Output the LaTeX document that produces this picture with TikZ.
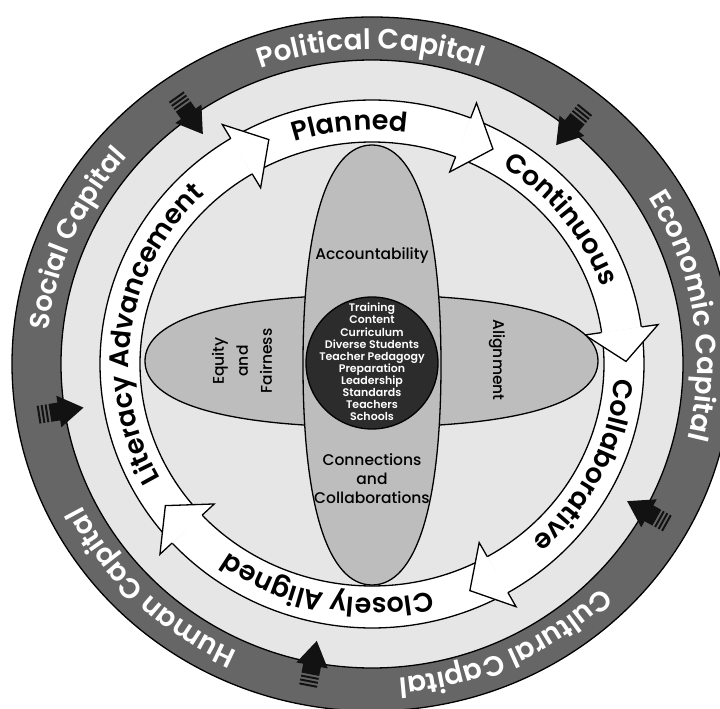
\documentclass[tikz,border=0pt]{standalone}
\usepackage{fontspec}
\setmainfont{Poppins}
\newfontfamily\popmed{Poppins Medium}
\newfontfamily\popsemi{Poppins SemiBold}
\usetikzlibrary{decorations.text}

\definecolor{capring}{HTML}{666666}
\definecolor{haze}{HTML}{E6E6E6}
\definecolor{petal}{HTML}{BDBDBD}
\definecolor{hub}{HTML}{2C2C2C}
\definecolor{pointer}{HTML}{121212}

% text set along a clockwise elliptic arc
% #1 centre angle, #2 half span, #3 x radius, #4 y radius, #5 text colour, #6 text
\newcommand\arclabel[6]{%
  \path[decorate, decoration={text along path, text align=center, text color=#5, text={#6}}]
    ({#1+#2}:#3 and #4) arc[start angle={#1+#2}, end angle={#1-#2}, x radius=#3, y radius=#4];
}

% body of one cycle segment, from angle #1 clockwise to angle #2
% (outer edge 272 x 264, inner edge 232 x 222)
\newcommand\cyclebody[2]{%
  \fill[white] ({#1}:272 and 264) arc[start angle={#1}, end angle={#2}, x radius=272, y radius=264]
    -- ({#2}:232 and 222) arc[start angle={#2}, end angle={#1}, x radius=232, y radius=222] -- cycle;
  \draw[edge] ({#1}:272 and 264) arc[start angle={#1}, end angle={#2}, x radius=272, y radius=264];
  \draw[edge] ({#1}:232 and 222) arc[start angle={#1}, end angle={#2}, x radius=232, y radius=222];
}

% arrow head of a cycle segment, base at angle #1
\newcommand\cyclehead[1]{%
  \begin{scope}[shift={({#1}:252 and 243)}, rotate={#1-90}]
    \fill[white] (0,37) -- (32,0) -- (0,-37) -- cycle;
    \draw[edge, line join=miter] (0,20.5) -- (0,37) -- (32,0) -- (0,-37) -- (0,-20.5);
  \end{scope}
}

% small inward pointer with a striped tail, tip at angle #1
\newcommand\inpointer[1]{%
  \begin{scope}[shift={({#1}:292 and 282)}, rotate={#1+180}]
    \fill[pointer] (0,0) -- (-25,16) -- (-25,9) -- (-34,9) -- (-34,-9) -- (-25,-9) -- (-25,-16) -- cycle;
    \fill[pointer] (-38,-9) rectangle (-36,9);
    \fill[pointer] (-42,-9) rectangle (-40,9);
    \fill[pointer] (-46,-9) rectangle (-44,9);
  \end{scope}
}

% full-bodied oval petal: centre (#1,#2), half axes #3 and #4
\newcommand\petalshape[4]{%
  \begin{scope}[shift={(#1,#2)}]
    \filldraw[fill=petal, edge] ({#3},0) .. controls ({#3},{0.64*#4}) and ({0.64*#3},{#4}) .. (0,{#4})
      .. controls ({-0.64*#3},{#4}) and ({-#3},{0.64*#4}) .. ({-#3},0)
      .. controls ({-#3},{-0.64*#4}) and ({-0.64*#3},{-#4}) .. (0,{-#4})
      .. controls ({0.64*#3},{-#4}) and ({#3},{-0.64*#4}) .. cycle;
  \end{scope}
}

\begin{document}
\begin{tikzpicture}[x=1pt, y=1pt,
    edge/.style={draw=black, line width=1.3pt},
    petaltext/.style={font=\popmed\fontsize{15.5}{19}\selectfont, align=center, text=black},
  ]
\useasboundingbox (-372,-345) rectangle (348,364);
\clip (-372,-345) rectangle (348,364);
\fill[white] (-372,-345) rectangle (348,364);

% outer capital ring
\fill[capring] (0,0) ellipse [x radius=360, y radius=347];
\fill[haze] (0,0) ellipse [x radius=311, y radius=304];
\draw[edge] (0,0) ellipse [x radius=360, y radius=347];
\draw[edge] (0,0) ellipse [x radius=311, y radius=304];

% capital labels
\arclabel{90.3}{40}{325}{315}{white}{|\popsemi\fontsize{28}{30}\selectfont|Political Capital}
\arclabel{9}{45}{325}{315}{white}{|\popsemi\fontsize{28}{30}\selectfont|Economic Capital}
\arclabel{-65}{40}{325}{315}{white}{|\popsemi\fontsize{28}{30}\selectfont|Cultural Capital}
\arclabel{226}{38}{325}{315}{white}{|\popsemi\fontsize{28}{30}\selectfont|Human Capital}
\arclabel{156.5}{35}{325}{315}{white}{|\popsemi\fontsize{27.5}{30}\selectfont|Social Capital}

% inward pointers
\inpointer{125.4}
\inpointer{50.9}
\inpointer{-29.1}
\inpointer{259.1}
\inpointer{188.9}

% cycle of literacy advancement
\cyclebody{221.3}{121.2}
\cyclebody{119.7}{68.8}
\cyclebody{67.3}{8.1}
\cyclebody{6.6}{-60.1}
\cyclebody{-61.6}{-137.2}
\cyclehead{121.2}
\cyclehead{68.8}
\cyclehead{8.1}
\cyclehead{-60.1}
\cyclehead{222.8}

\arclabel{171.5}{50}{243}{234}{black}{|\popsemi\fontsize{27}{30}\selectfont|Literacy Advancement}
\arclabel{95.2}{25}{243}{234}{black}{|\popsemi\fontsize{27}{30}\selectfont|Planned}
\arclabel{38.2}{28}{243}{234}{black}{|\popsemi\fontsize{27}{30}\selectfont|Continuous}
\arclabel{-26}{32}{243}{234}{black}{|\popsemi\fontsize{27}{30}\selectfont|Collaborative}
\arclabel{-101.1}{36}{243}{234}{black}{|\popsemi\fontsize{27}{30}\selectfont|Closely Aligned}

% petals
\petalshape{-0.5}{3}{226.5}{66}
\petalshape{0}{-1}{69}{220}

% hub
\filldraw[fill=hub, edge] (0,1) circle [radius=66];

\node[petaltext] (acc) at (0,108) {Accountability};
\node[petaltext, rotate=90, font=\popmed\fontsize{15.5}{24}\selectfont] (equ) at (-130,3) {Equity\\and\\Fairness};
\node[petaltext, rotate=-90] (ali) at (125,4) {Alignment};
\node[petaltext] (con) at (0,-115) {Connections\\and\\Collaborations};

\node[align=center, text=white, font=\popsemi\fontsize{11}{12.1}\selectfont] (hubtext) at (0,2)
  {Training\\Content\\Curriculum\\Diverse Students\\Teacher Pedagogy\\Preparation\\Leadership\\Standards\\Teachers\\Schools};
\end{tikzpicture}
\end{document}
